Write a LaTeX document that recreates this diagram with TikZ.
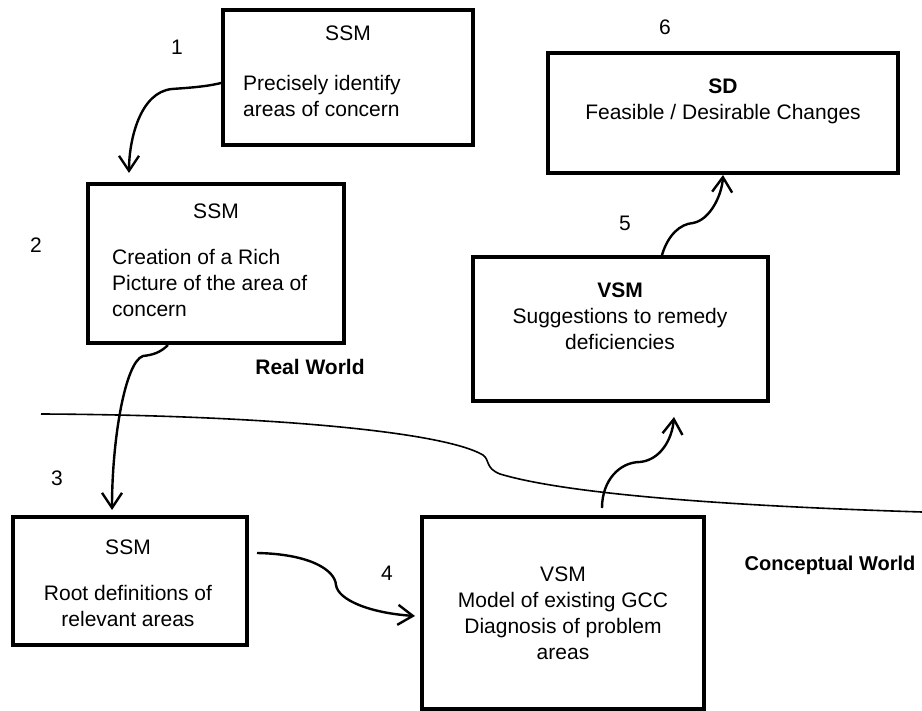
\documentclass[tikz,border=0pt]{standalone}
\usepackage{fontspec}
\setmainfont{Liberation Sans}
\usetikzlibrary{arrows.meta}
\begin{document}
\begin{tikzpicture}[x=1pt,y=-1pt,
  box/.style={draw,line width=4pt,inner sep=0pt,rectangle},
  txt/.style={inner sep=0pt,font=\fontsize{21pt}{26pt}\selectfont},
  conn/.style={line width=2.4pt,-{Straight Barb[length=15pt,width=20pt]}},
  divider/.style={line width=1.6pt}]
\useasboundingbox (0,0) rectangle (922,711);
% boxes
\node[box,minimum width=250pt,minimum height=135pt] (b1) at (348,77.5) {};
\node[box,minimum width=256pt,minimum height=159pt] (b2) at (216,263.5) {};
\node[box,minimum width=234pt,minimum height=128pt] (b3) at (130,581) {};
\node[box,minimum width=282pt,minimum height=192pt] (b4) at (563,613) {};
\node[box,minimum width=295pt,minimum height=144pt] (b5) at (620.5,329) {};
\node[box,minimum width=350pt,minimum height=120pt] (b6) at (723,113) {};
% box texts
\node[txt] (t1a) at (348,33) {SSM};
\node[txt,anchor=west,align=left] (t1b) at (243,96) {Precisely identify\\areas of concern};
\node[txt] (t2a) at (216,211) {SSM};
\node[txt,anchor=west,align=left] (t2b) at (112,283) {Creation of a Rich\\Picture of the area of\\concern};
\node[txt] (t3a) at (128,547) {SSM};
\node[txt,align=center] (t3b) at (128,606) {Root definitions of\\relevant areas};
\node[txt,align=center] (t4) at (563,613) {VSM\\Model of existing GCC\\Diagnosis of problem\\areas};
\node[txt,align=center] (t5) at (620,316) {\textbf{VSM}\\Suggestions to remedy\\deficiencies};
\node[txt,align=center] (t6) at (723,101) {\textbf{SD}\\Feasible / Desirable Changes};
% step labels
\node[txt] (n1) at (177,47) {1};
\node[txt] (n2) at (36,245) {2};
\node[txt] (n3) at (57,478) {3};
\node[txt] (n4) at (387,573) {4};
\node[txt] (n5) at (625,223) {5};
\node[txt] (n6) at (665,27) {6};
\node[txt,font=\fontsize{21pt}{26pt}\selectfont\bfseries] (rw) at (310,367) {Real World};
\node[txt,font=\fontsize{20pt}{26pt}\selectfont\bfseries] (cw) at (830,565) {Conceptual World};
% free ends
\coordinate (a1e) at (129,173);
\coordinate (a2e) at (112,510);
\coordinate (a4s) at (257,553);
\coordinate (a4e) at (415,616);
\coordinate (a45s) at (602,508);
\coordinate (a45e) at (674,417);
\coordinate (a5e) at (723,175);
\coordinate (dl) at (41,414);
\coordinate (dr) at (922,512);
% connectors
\draw[conn] ([yshift=-5.5pt]b1.west) .. controls (205,87) and (185,88) .. (172,89)
   .. controls (140,92) and (129,140) .. (a1e);
\draw[conn] ([xshift=-48pt]b2.south) .. controls (160,353) and (152,355) .. (143,356)
   .. controls (125,362) and (112,440) .. (a2e);
\draw[conn] (a4s) .. controls (310,554) and (335,570) .. (336,585)
   .. controls (338,600) and (370,613) .. (a4e);
\draw[conn] (a45s) .. controls (602,480) and (620,462) .. (640,462)
   .. controls (660,460) and (672,440) .. (a45e);
\draw[conn] ([xshift=41.5pt]b5.north) .. controls (668,235) and (680,224) .. (693,223)
   .. controls (710,220) and (722,195) .. (a5e);
% divider
\draw[divider] (dl) .. controls (250,415) and (440,430) .. (483,455)
   .. controls (490,460) and (485,468) .. (500,474)
   .. controls (560,492) and (700,505) .. (dr);
\end{tikzpicture}
\end{document}
